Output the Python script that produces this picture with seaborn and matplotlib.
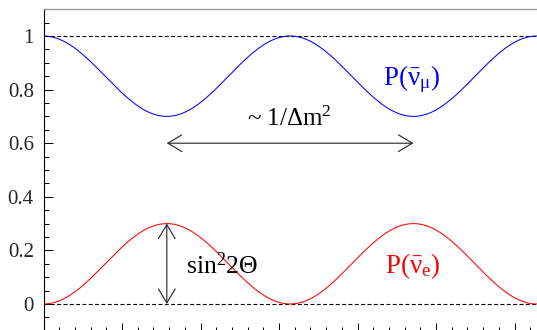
import numpy as np
import pandas as pd
import matplotlib
matplotlib.use("Agg")
import matplotlib.pyplot as plt
from matplotlib.ticker import MultipleLocator, FixedLocator, NullFormatter
import seaborn as sns

# Oscillation parameters
sin2_2theta = 0.3            # amplitude of the appearance probability
x_range = (0.0, 2 * np.pi)   # L/E axis range (two full oscillation periods)
y_ticks = [0, 0.2, 0.4, 0.6, 0.8, 1]
y_tick_labels = ["0", "0.2", "0.4", "0.6", "0.8", "1"]
series_names = ["P_mu", "P_e"]

x = np.linspace(*x_range, 600)
p_e = sin2_2theta * np.sin(x) ** 2
p_mu = 1 - p_e
df = pd.DataFrame({"x": np.concatenate([x, x]),
                   "P": np.concatenate([p_mu, p_e]),
                   "series": np.repeat(series_names, len(x))})

sns.set_style("ticks")
plt.rcParams["font.family"] = ["Liberation Serif", "DejaVu Serif"]
plt.rcParams["mathtext.fontset"] = "custom"
plt.rcParams["mathtext.rm"] = "Liberation Serif"
plt.rcParams["mathtext.it"] = "Liberation Serif:italic"
plt.rcParams["mathtext.bf"] = "Liberation Serif:bold"

fig = plt.figure(figsize=(5.37, 3.30), dpi=100)
W, H = 537, 330
left_px, right_px = 43.5, 43.5 + 2 * np.pi * 78.5
top_px, bottom_px = 9.2, 330.8
ax = fig.add_axes([left_px / W, (H - bottom_px) / H,
                   (right_px - left_px) / W, (bottom_px - top_px) / H])

sns.lineplot(data=df, x="x", y="P", hue="series",
             palette={"P_mu": "#0000ff", "P_e": "#ff0000"},
             linewidth=0.75, legend=False, ax=ax)

# reference levels
for lvl in (0, 1):
    ax.axhline(lvl, color="black", lw=0.8, ls=(0, (3.5, 2.2)), zorder=1)

ax.set_xlim(*x_range)
ax.set_ylim(-0.1, 1.1)
ax.set_xlabel("")
ax.set_ylabel("")

ax.xaxis.set_major_locator(MultipleLocator(1))
ax.xaxis.set_minor_locator(MultipleLocator(0.2))
ax.xaxis.set_major_formatter(NullFormatter())
ax.yaxis.set_major_locator(FixedLocator(y_ticks))
ax.set_yticklabels(y_tick_labels)
ax.yaxis.set_minor_locator(MultipleLocator(0.05))

ax.tick_params(axis="x", which="major", direction="in", length=5.8, width=0.7,
               color="black", top=False, bottom=True)
ax.tick_params(axis="x", which="minor", direction="in", length=2.9, width=0.7,
               color="black", top=False, bottom=True)
ax.tick_params(axis="y", which="major", direction="in", length=6.5, width=0.7,
               color="black", labelsize=15, pad=7, right=False)
ax.tick_params(axis="y", which="minor", direction="in", length=3.6, width=0.7,
               color="black", right=False)

for s in ("left", "bottom"):
    ax.spines[s].set_color("black")
    ax.spines[s].set_linewidth(0.8)
ax.spines["right"].set_visible(False)
ax.spines["top"].set_color("#999999")
ax.spines["top"].set_linewidth(1.0)

def px2data(px, py):
    return (px - 43.5) / 78.5, (304 - py) / 268

# labels
ax.text(*px2data(383, 85), r"$\mathrm{P(\bar{\nu}_{\mu})}$", color="#0000ff",
        fontsize=19.5, ha="left", va="baseline")
ax.text(*px2data(385, 273), r"$\mathrm{P(\bar{\nu}_{e})}$", color="#ff0000",
        fontsize=19.5, ha="left", va="baseline")
ax.text(*px2data(247, 126), r"~ $\mathrm{1/\Delta m^{2}}$", color="black",
        fontsize=18, ha="left", va="baseline")
ax.text(*px2data(186, 274), r"$\mathrm{sin^{2}2\Theta}$", color="black",
        fontsize=18.5, ha="left", va="baseline")

arrow_kw = dict(arrowstyle="<->,head_length=1.0,head_width=0.6",
                mutation_scale=10, color="#222222", lw=0.8,
                shrinkA=0, shrinkB=0)
ax.annotate("", xy=(np.pi / 2, 0.6), xytext=(3 * np.pi / 2, 0.6),
            arrowprops=arrow_kw)
ax.annotate("", xy=(np.pi / 2, 0.0), xytext=(np.pi / 2, sin2_2theta),
            arrowprops=arrow_kw)

fig.savefig("out.png", dpi=100)
